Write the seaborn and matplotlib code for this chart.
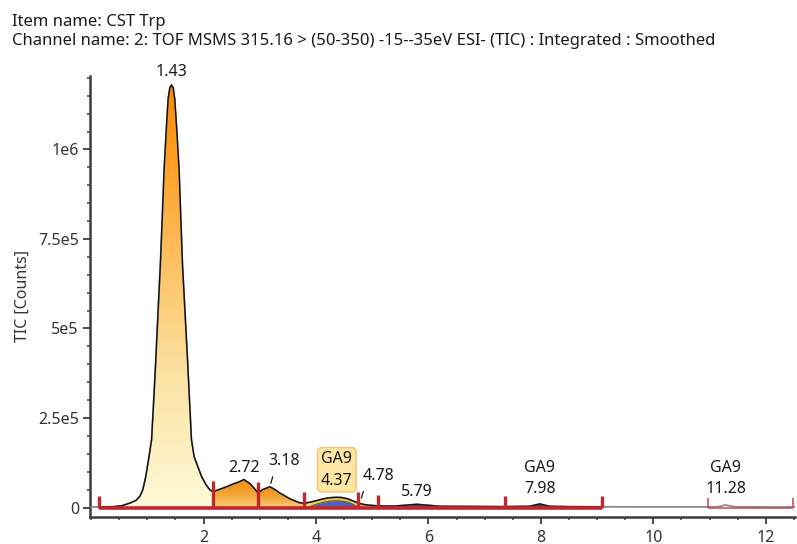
import numpy as np
import pandas as pd
import seaborn as sns
import matplotlib
matplotlib.use("Agg")
import matplotlib.pyplot as plt
from matplotlib.colors import LinearSegmentedColormap
from matplotlib.patches import PathPatch
from matplotlib.ticker import MultipleLocator, FixedLocator, FixedFormatter

sns.set_theme(style="ticks")
FONT = ["Noto Sans", "DejaVu Sans"]
plt.rcParams["font.family"] = FONT

item_name = "CST Trp"
channel_name = "2: TOF MSMS 315.16 > (50-350) -15--35eV ESI- (TIC) : Integrated : Smoothed"

# Smoothed TIC trace: retention time (min) and counts
rt_min = [0.00, 0.14, 0.40, 0.55, 0.70, 0.80, 0.87, 0.92, 0.97, 1.03,
          1.075, 1.11, 1.15, 1.19, 1.232, 1.265, 1.298, 1.335, 1.369, 1.40,
          1.43, 1.46, 1.488, 1.525, 1.565, 1.595, 1.625, 1.67, 1.715, 1.75,
          1.785, 1.832, 1.877, 1.966, 2.05, 2.114, 2.17, 2.41, 2.53, 2.62,
          2.72, 2.83, 2.92, 2.97, 3.05, 3.18, 3.27, 3.36, 3.54, 3.71,
          3.79, 3.90, 4.00, 4.10, 4.20, 4.30, 4.37, 4.45, 4.55, 4.65,
          4.74, 4.85, 4.95, 5.10, 5.40, 5.79, 6.20, 6.80, 7.36, 7.80,
          7.98, 8.15, 8.50, 9.08, 10.00, 10.97, 11.15, 11.28, 11.45, 12.00,
          12.52]
tic_counts = [1500, 1500, 2500, 5000, 13000, 20000, 32000, 50000, 85000, 142000,
              189000, 290000, 412000, 545000, 680000, 810000, 943000, 1050000, 1140000, 1172000,
              1180000, 1172000, 1140000, 1050000, 943000, 810000, 680000, 545000, 412000, 300000,
              189000, 142000, 123000, 86000, 62000, 49000, 44000, 58000, 66000, 71000,
              78000, 66000, 50000, 40000, 50000, 58000, 50000, 40000, 24000, 13000,
              12000, 15000, 19000, 23000, 26500, 28000, 28500, 28000, 25000, 19000,
              13000, 8500, 6500, 4500, 4000, 9000, 3500, 3000, 2500, 3500,
              10000, 3500, 2500, 2000, 1500, 1500, 2000, 7000, 2000, 1500,
              1500]

# GA9 component signal under the 4.37 min peak
ga9_rt = [3.86, 3.95, 4.05, 4.15, 4.25, 4.37, 4.48, 4.58, 4.67, 4.73]
ga9_counts = [0, 6000, 11000, 15000, 18000, 19000, 17500, 14000, 8000, 2000]

# Integration boundaries (min)
integration_bounds = [0.14, 2.17, 2.97, 3.79, 4.74, 5.10, 7.36, 9.08]
late_bounds = [10.97, 12.49]

# Peak annotations
label_rt = ["1.43", "2.72", "3.18", "4.37", "4.78", "5.79", "7.98", "11.28"]
label_name = ["", "", "", "GA9", "", "", "GA9", "GA9"]

ytick_values = [0, 250000, 500000, 750000, 1000000]
ytick_labels = ["0", "2.5e5", "5e5", "7.5e5", "1e6"]
xtick_values = [2, 4, 6, 8, 10, 12]

# ---- styling -------------------------------------------------------------
RED = "#C1262C"
INK = "#1A1A1A"
AXIS = "#3C3C3C"
FS = 11.5
FS_TITLE = 12

cmaps = {
    "main": LinearSegmentedColormap.from_list(
        "main", [(0, "#FFFAD8"), (0.3, "#FBE4A4"), (0.55, "#FDC56A"),
                 (0.8, "#FFA22A"), (1, "#FF8A00")]),
    "orange": LinearSegmentedColormap.from_list("orange", ["#FAD080", "#F5A535", "#EF8A10"]),
    "ga9": LinearSegmentedColormap.from_list("ga9", ["#F8D472", "#F2BD3A"]),
    "navy": LinearSegmentedColormap.from_list("navy", ["#2E2E78", "#2E2E78"]),
}
region_fill = ["main", "orange", "orange", "ga9", "orange", "navy", "navy"]

# label offsets (points) of the text centre relative to the apex, and leader lines
label_offset = [(0, 9.4), (0, 8.4), (10.2, 18.5), (0, 19.8), (13.1, 19.9), (0, 9.1), (0, 18.2), (0.5, 19.2)]
label_leader = [None, None, ((2.0, 7.2), 2.5), None, ((2.5, 8.6), 4.0), None, None, None]
label_boxed = [False, False, False, True, False, False, False, False]

fig = plt.figure(figsize=(7.97, 5.44), dpi=100)
ax = fig.add_axes([90 / 797, 1 - 517 / 544, 705 / 797, 441 / 544])

rt_arr = np.array(rt_min)
tic_arr = np.array(tic_counts)


def trace_at(t):
    return float(np.interp(t, rt_arr, tic_arr))


def segment(a, b):
    xs = [a] + [t for t in rt_min if a < t < b] + [b]
    ys = [trace_at(t) for t in xs]
    return np.array(xs), np.array(ys)


# gradient-filled integrated peaks
for (a, b), key in zip(zip(integration_bounds[:-1], integration_bounds[1:]), region_fill):
    xs, ys = segment(a, b)
    poly = ax.fill_between(xs, 0, ys, facecolor="none", edgecolor="none")
    clip = PathPatch(poly.get_paths()[0], transform=ax.transData,
                     facecolor="none", edgecolor="none")
    ax.add_patch(clip)
    img = ax.imshow(np.linspace(0, 1, 256).reshape(-1, 1), cmap=cmaps[key],
                    aspect="auto", origin="lower", extent=[a, b, 0, ys.max()],
                    zorder=1, interpolation="bilinear")
    img.set_clip_path(clip)

# GA9 component area
ax.fill_between(ga9_rt, 0, ga9_counts, color="#4A62B8", lw=0, zorder=2)
sns.lineplot(x=ga9_rt, y=ga9_counts, color="#5B5A2A", lw=0.8, ax=ax,
             estimator=None, sort=False, zorder=2.5)

# full trace in grey, integrated stretch in black
df = pd.DataFrame({"rt": rt_min, "tic": tic_counts})
sns.lineplot(data=df, x="rt", y="tic", color="#8C8C8C", lw=1.3, ax=ax,
             estimator=None, sort=False, zorder=3)
xs, ys = segment(integration_bounds[0], integration_bounds[-1])
sns.lineplot(x=xs, y=ys, color="#111111", lw=1.0, ax=ax,
             estimator=None, sort=False, zorder=3.2)

# integration baselines and boundary markers
ax.hlines(0, integration_bounds[0], integration_bounds[-1], color=RED, lw=2.6, zorder=4)
ax.vlines(integration_bounds, -2500, [trace_at(b) + 30000 for b in integration_bounds],
          color=RED, lw=2.4, zorder=5)
ax.hlines(0, late_bounds[0], late_bounds[-1], color="#C8454A", lw=1.1, zorder=4)
ax.vlines(late_bounds, -1500, [trace_at(b) + 24000 for b in late_bounds],
          color="#C8454A", lw=1.1, zorder=5)

# peak labels
for txt, name, off, leader, boxed in zip(label_rt, label_name, label_offset,
                                         label_leader, label_boxed):
    t = float(txt)
    v = trace_at(t)
    s = f"{name}\n{txt}" if name else txt
    kw = {}
    if boxed:
        kw["bbox"] = dict(boxstyle="round,pad=0.22,rounding_size=0.3",
                          fc="#FFE6A4", ec="#F3C46A", lw=1.0)
    ax.annotate(s, xy=(t, v), xytext=off, textcoords="offset points",
                ha="center", va="center", fontsize=FS, color=INK,
                linespacing=1.45, zorder=6, **kw)
    if leader is not None:
        end, shrink = leader
        ax.annotate("", xy=(t, v), xytext=end, textcoords="offset points",
                    arrowprops=dict(arrowstyle="-", color=INK, lw=0.9,
                                    shrinkA=0, shrinkB=shrink), zorder=6)

# axes
ax.set_xlim(-0.02, 12.52)
ax.set_ylim(-26500, 1.205e6)
ax.xaxis.set_major_locator(FixedLocator(xtick_values))
ax.xaxis.set_minor_locator(MultipleLocator(0.5))
ax.yaxis.set_major_locator(FixedLocator(ytick_values))
ax.yaxis.set_major_formatter(FixedFormatter(ytick_labels))
ax.yaxis.set_minor_locator(MultipleLocator(50000))
ax.set_xlabel("")
ax.set_ylabel("")
sns.despine(ax=ax)
for side in ("left", "bottom"):
    ax.spines[side].set_color(AXIS)
    ax.spines[side].set_linewidth(1.8)
ax.tick_params(which="major", length=5, width=1.3, color=AXIS,
               labelsize=FS, labelcolor="#333333", pad=3)
ax.tick_params(which="minor", length=2.5, width=1.1, color=AXIS)
ax.tick_params(axis="x", which="major", pad=4)

fig.text(23 / 797, 1 - 296.5 / 544, "TIC [Counts]", rotation=90, ha="center",
         va="center", fontsize=FS, color="#333333")
fig.text(12 / 797, 1 - 26.5 / 544, f"Item name: {item_name}", ha="left",
         va="baseline", fontsize=FS_TITLE, color=INK)
fig.text(12 / 797, 1 - 45 / 544, f"Channel name: {channel_name}", ha="left",
         va="baseline", fontsize=FS_TITLE, color=INK)

fig.savefig("out.png", dpi=100, facecolor="white")
